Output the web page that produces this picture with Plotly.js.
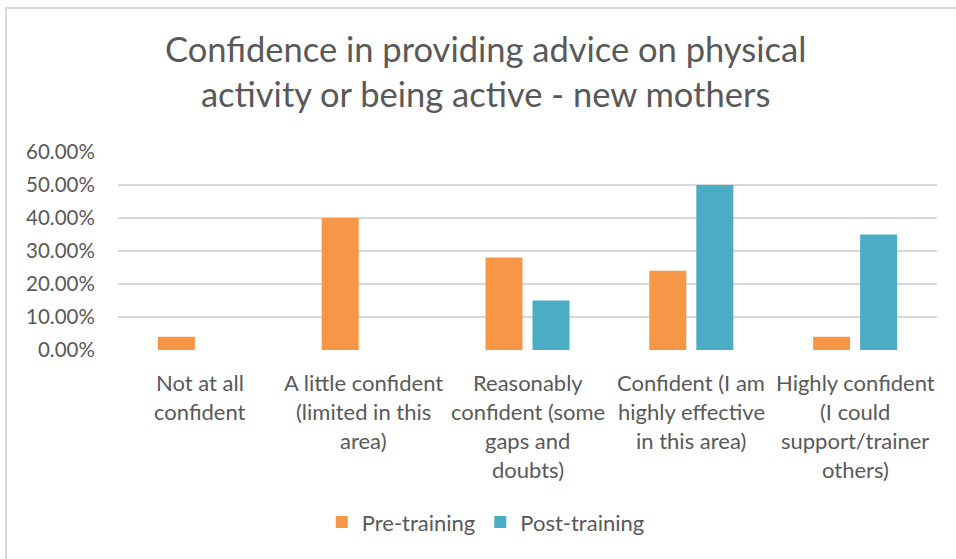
<!DOCTYPE html>
<html>
<head>
<meta charset="utf-8">
<script src="https://cdn.plot.ly/plotly-3.0.1.min.js"></script>
<style>
  html, body { margin: 0; padding: 0; background: #fff; }
  #chart { width: 956px; height: 559px; position: absolute; left: 0; top: 0; }
  #frame { position: absolute; left: 5px; top: 7px; width: 951px; height: 552px;
           border-left: 2px solid #d9d9d9; border-top: 2px solid #d9d9d9; pointer-events: none; box-sizing: border-box; }
</style>
</head>
<body>
<div id="chart"></div>
<div id="frame"></div>
<script>
const chartTitle = "Confidence in providing advice on physical<br>activity or being active - new mothers";
const categories = ["Not at all confident", "A little confident (limited in this area)",
  "Reasonably confident (some gaps and doubts)", "Confident (I am highly effective in this area)",
  "Highly confident (I could support/trainer others)"];
const categoryLines = [
  ["Not at all", "confident"],
  ["A little confident", "(limited in this", "area)"],
  ["Reasonably", "confident (some", "gaps and", "doubts)"],
  ["Confident (I am", "highly effective", "in this area)"],
  ["Highly confident", "(I could", "support/trainer", "others)"]
];
const seriesNames = ["Pre-training", "Post-training"];
const preTraining = [0.04, 0.40, 0.28, 0.24, 0.04];
const postTraining = [0, 0, 0.15, 0.50, 0.35];
const yTicks = [0, 0.1, 0.2, 0.3, 0.4, 0.5, 0.6];

const colors = ["#F79646", "#4BACC6"];
const textColor = "#595959";
const fontFam = "Lato, 'Open Sans', sans-serif";

const traces = [preTraining, postTraining].map((vals, i) => ({
  type: "bar",
  name: seriesNames[i],
  x: categories,
  y: vals,
  marker: { color: colors[i] },
  hoverinfo: "skip"
}));

const annotations = [];
categoryLines.forEach((lines, ci) => {
  lines.forEach((ln, li) => {
    annotations.push({
      x: categories[ci], xref: "x",
      y: 0, yref: "paper",
      yanchor: "top", xanchor: "center",
      yshift: -17 - li * 29,
      text: ln, showarrow: false,
      font: { family: fontFam, size: 22, color: textColor }
    });
  });
});

const layout = {
  width: 956, height: 559,
  margin: { l: 118, r: 19, t: 152, b: 209, autoexpand: false },
  paper_bgcolor: "#ffffff",
  plot_bgcolor: "#ffffff",
  font: { family: fontFam, color: textColor },
  title: {
    text: chartTitle,
    font: { family: fontFam, size: 34.5, color: textColor },
    x: 0.508, xanchor: "center",
    y: 0.889, yref: "container", yanchor: "top"
  },
  barmode: "group",
  bargap: 0.426,
  bargroupgap: 0.213,
  xaxis: {
    type: "category",
    showticklabels: false,
    showgrid: false, zeroline: false, showline: false, ticks: ""
  },
  yaxis: {
    range: [0, 0.6],
    tickvals: yTicks,
    tickformat: ".2%",
    showgrid: true, gridcolor: "#d9d9d9", gridwidth: 1.3,
    zeroline: false, showline: false,
    ticks: "outside", ticklen: 18, tickcolor: "rgba(0,0,0,0)",
    tickfont: { family: fontFam, size: 20.5, color: textColor }
  },
  showlegend: true,
  legend: {
    orientation: "h",
    x: 0.449, xanchor: "center",
    y: -0.87, yanchor: "middle",
    font: { family: fontFam, size: 22, color: textColor },
    traceorder: "normal"
  },
  annotations: annotations
};

Plotly.newPlot("chart", traces, layout, { staticPlot: true, displayModeBar: false });
</script>
</body>
</html>
